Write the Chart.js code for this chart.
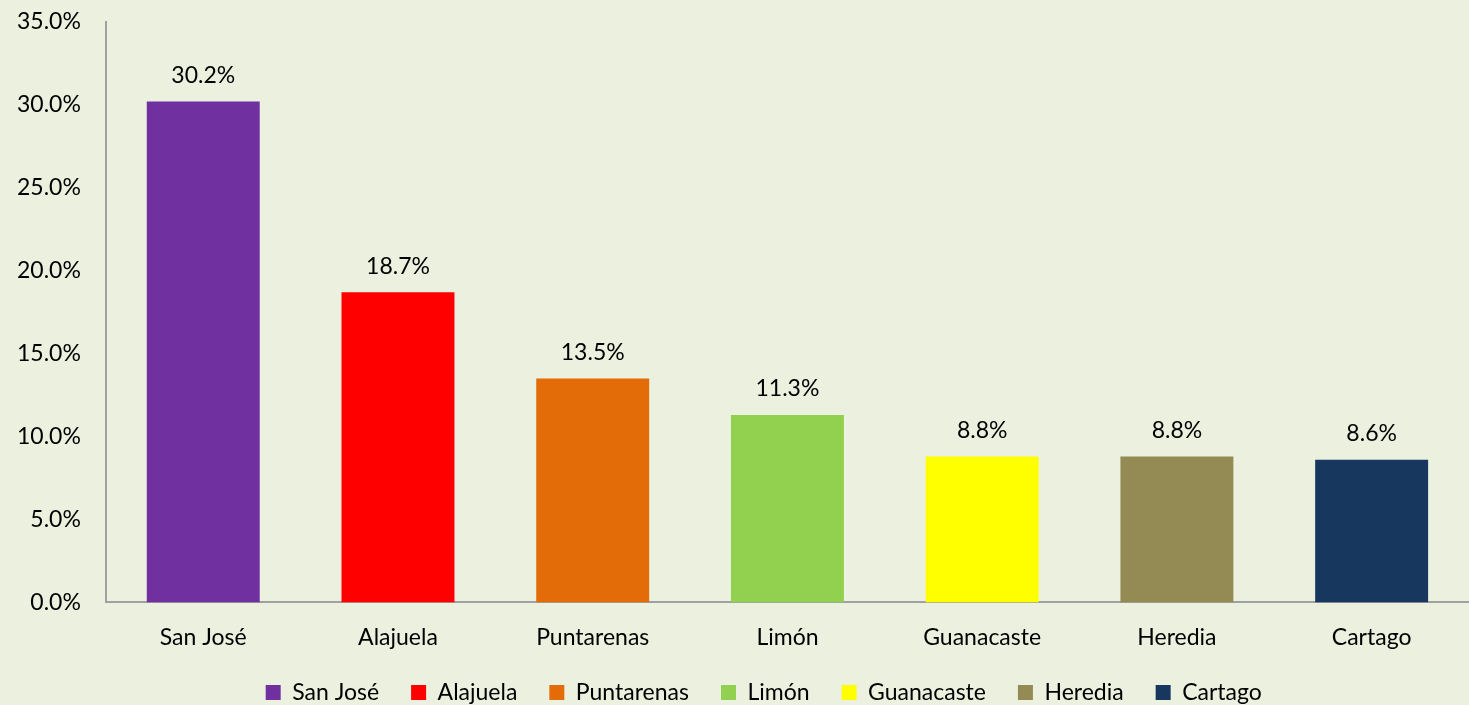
<!DOCTYPE html>
<html>
<head>
<meta charset="utf-8">
<script src="https://cdn.jsdelivr.net/npm/chart.js@4"></script>
<style>
html,body{margin:0;padding:0;background:#EBF1DE;overflow:hidden;}
#wrap{width:1469px;height:705px;position:relative;}
</style>
</head>
<body>
<div id="wrap"><canvas id="c"></canvas></div>
<script>
const categories = ["San José","Alajuela","Puntarenas","Limón","Guanacaste","Heredia","Cartago"];
const values = [30.2, 18.7, 13.5, 11.3, 8.8, 8.8, 8.6];
const colors = ["#7030A0","#FF0000","#E36C09","#92D050","#FFFF00","#948A54","#17375E"];

const FONT = "Lato, 'Open Sans', sans-serif";
const FS = 23;

const valueLabels = {
  id: 'valueLabels',
  afterDatasetsDraw(chart) {
    const ctx = chart.ctx;
    const meta = chart.getDatasetMeta(0);
    ctx.save();
    ctx.fillStyle = '#000';
    ctx.font = FS + 'px ' + FONT;
    ctx.textAlign = 'center';
    ctx.textBaseline = 'middle';
    meta.data.forEach((bar, i) => {
      ctx.fillText(values[i].toFixed(1) + '%', bar.x, bar.y - 26);
    });
    ctx.restore();
  }
};

new Chart(document.getElementById('c'), {
  type: 'bar',
  data: {
    labels: categories,
    datasets: [{
      data: values,
      backgroundColor: colors,
      borderWidth: 0,
      barPercentage: 0.58,
      categoryPercentage: 1.0
    }]
  },
  options: {
    responsive: true,
    maintainAspectRatio: false,
    animation: false,
    layout: { padding: { top: 0, right: 0, left: 0, bottom: -9 } },
    scales: {
      x: {
        grid: { display: false },
        border: { display: true, color: '#A0A0A0', width: 2 },
        ticks: { color: '#000', font: { family: FONT, size: FS }, padding: 13 },
        afterFit: s => { s.height -= 15; }
      },
      y: {
        min: 0, max: 35,
        grid: { display: false },
        border: { display: true, color: '#A0A0A0', width: 2 },
        ticks: {
          stepSize: 5,
          color: '#000',
          font: { family: FONT, size: FS },
          padding: 17,
          callback: v => v.toFixed(1) + '%'
        },
        afterFit: s => { s.paddingTop = 22; }
      }
    },
    plugins: {
      tooltip: { enabled: false },
      legend: {
        position: 'bottom',
        labels: {
          color: '#000',
          font: { family: FONT, size: FS },
          boxWidth: 15,
          boxHeight: 15,
          padding: 32,
          generateLabels: (chart) => [{
            text: '',
            fillStyle: 'rgba(0,0,0,0)',
            strokeStyle: 'rgba(0,0,0,0)',
            lineWidth: 0,
            hidden: false
          }].concat(categories.map((c, i) => ({
            text: c,
            fillStyle: colors[i],
            strokeStyle: colors[i],
            lineWidth: 0,
            hidden: false,
            index: i
          })))
        }
      }
    }
  },
  plugins: [valueLabels]
});
</script>
</body>
</html>
